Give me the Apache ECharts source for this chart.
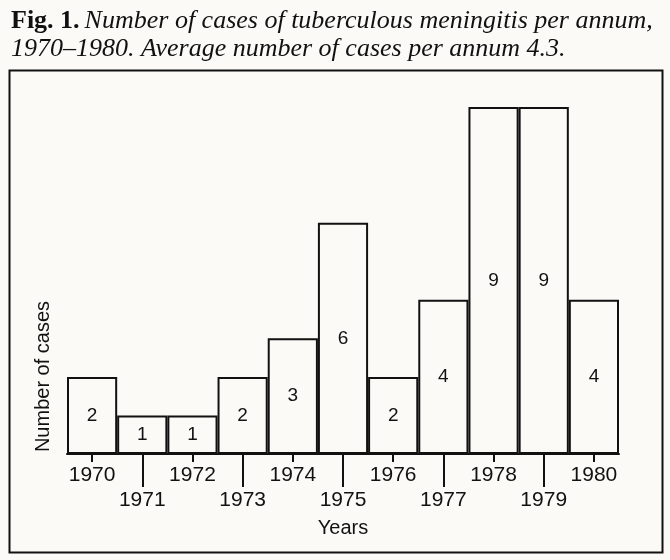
<!DOCTYPE html>
<html>
<head>
<meta charset="utf-8">
<script src="https://cdn.jsdelivr.net/npm/echarts@6/dist/echarts.min.js"></script>
<style>html,body{margin:0;padding:0;background:#fbfaf7;}#c{width:670px;height:560px;}</style>
</head>
<body>
<div id="c"></div>
<script>
const years = ['1970','1971','1972','1973','1974','1975','1976','1977','1978','1979','1980'];
const cases = [2, 1, 1, 2, 3, 6, 2, 4, 9, 9, 4];
const titleBold = 'Fig. 1.';
const titleLine1 = 'Number of cases of tuberculous meningitis per annum,';
const titleLine2 = '1970–1980. Average number of cases per annum 4.3.';
const xName = 'Years';
const yName = 'Number of cases';

const chart = echarts.init(document.getElementById('c'), null, {renderer: 'canvas'});
const sans = 'Liberation Sans, Arial, sans-serif';
const serif = 'Liberation Serif, Times New Roman, serif';
const even = (i) => i % 2 === 0;
const odd = (i) => i % 2 === 1;

chart.setOption({
  backgroundColor: '#fbfaf7',
  animation: false,
  title: {
    left: 6, top: 2,
    text: '{b|' + titleBold + '} {i|' + titleLine1 + '}\n{i|' + titleLine2 + '}',
    textStyle: {
      fontWeight: 'normal',
      rich: {
        b: {fontFamily: serif, fontWeight: 'bold', fontStyle: 'normal', fontSize: 26, color: '#111', lineHeight: 28},
        i: {fontFamily: serif, fontWeight: 'normal', fontStyle: 'italic', fontSize: 26, color: '#111', lineHeight: 28}
      }
    }
  },
  graphic: [{
    type: 'rect', left: 7, top: 68,
    shape: {width: 653, height: 482},
    style: {fill: 'none', stroke: '#111', lineWidth: 2}
  }],
  grid: {left: 67, right: 51, top: 107, bottom: 106},
  xAxis: [{
    type: 'category', data: years, position: 'bottom',
    axisLine: {show: true, lineStyle: {color: '#111', width: 2}},
    axisTick: {show: true, alignWithLabel: true, length: 8, interval: even, lineStyle: {color: '#111', width: 2}},
    axisLabel: {interval: even, margin: 11, fontFamily: sans, fontSize: 21, color: '#111'},
    name: xName, nameLocation: 'middle', nameGap: 64,
    nameTextStyle: {fontFamily: sans, fontSize: 20, color: '#111'}
  }, {
    type: 'category', data: years, position: 'bottom', offset: 0,
    axisLine: {show: false},
    axisTick: {show: true, alignWithLabel: true, length: 33, interval: odd, lineStyle: {color: '#111', width: 2}},
    axisLabel: {interval: odd, margin: 36, fontFamily: sans, fontSize: 21, color: '#111'}
  }],
  yAxis: {
    type: 'value', min: 0, max: 9,
    axisLine: {show: false}, axisTick: {show: false}, axisLabel: {show: false}, splitLine: {show: false},
    name: yName, nameLocation: 'middle', nameGap: 14, nameRotate: 90,
    nameTextStyle: {fontFamily: sans, fontSize: 20, color: '#111', padding: [0, 192, 0, 0]}
  },
  series: [{
    type: 'bar', data: cases, xAxisIndex: 0,
    barCategoryGap: '0%',
    itemStyle: {color: '#fbfaf7', borderColor: '#111', borderWidth: 2},
    label: {show: true, position: 'inside', fontFamily: sans, fontSize: 19, color: '#111'}
  }]
});
</script>
</body>
</html>
